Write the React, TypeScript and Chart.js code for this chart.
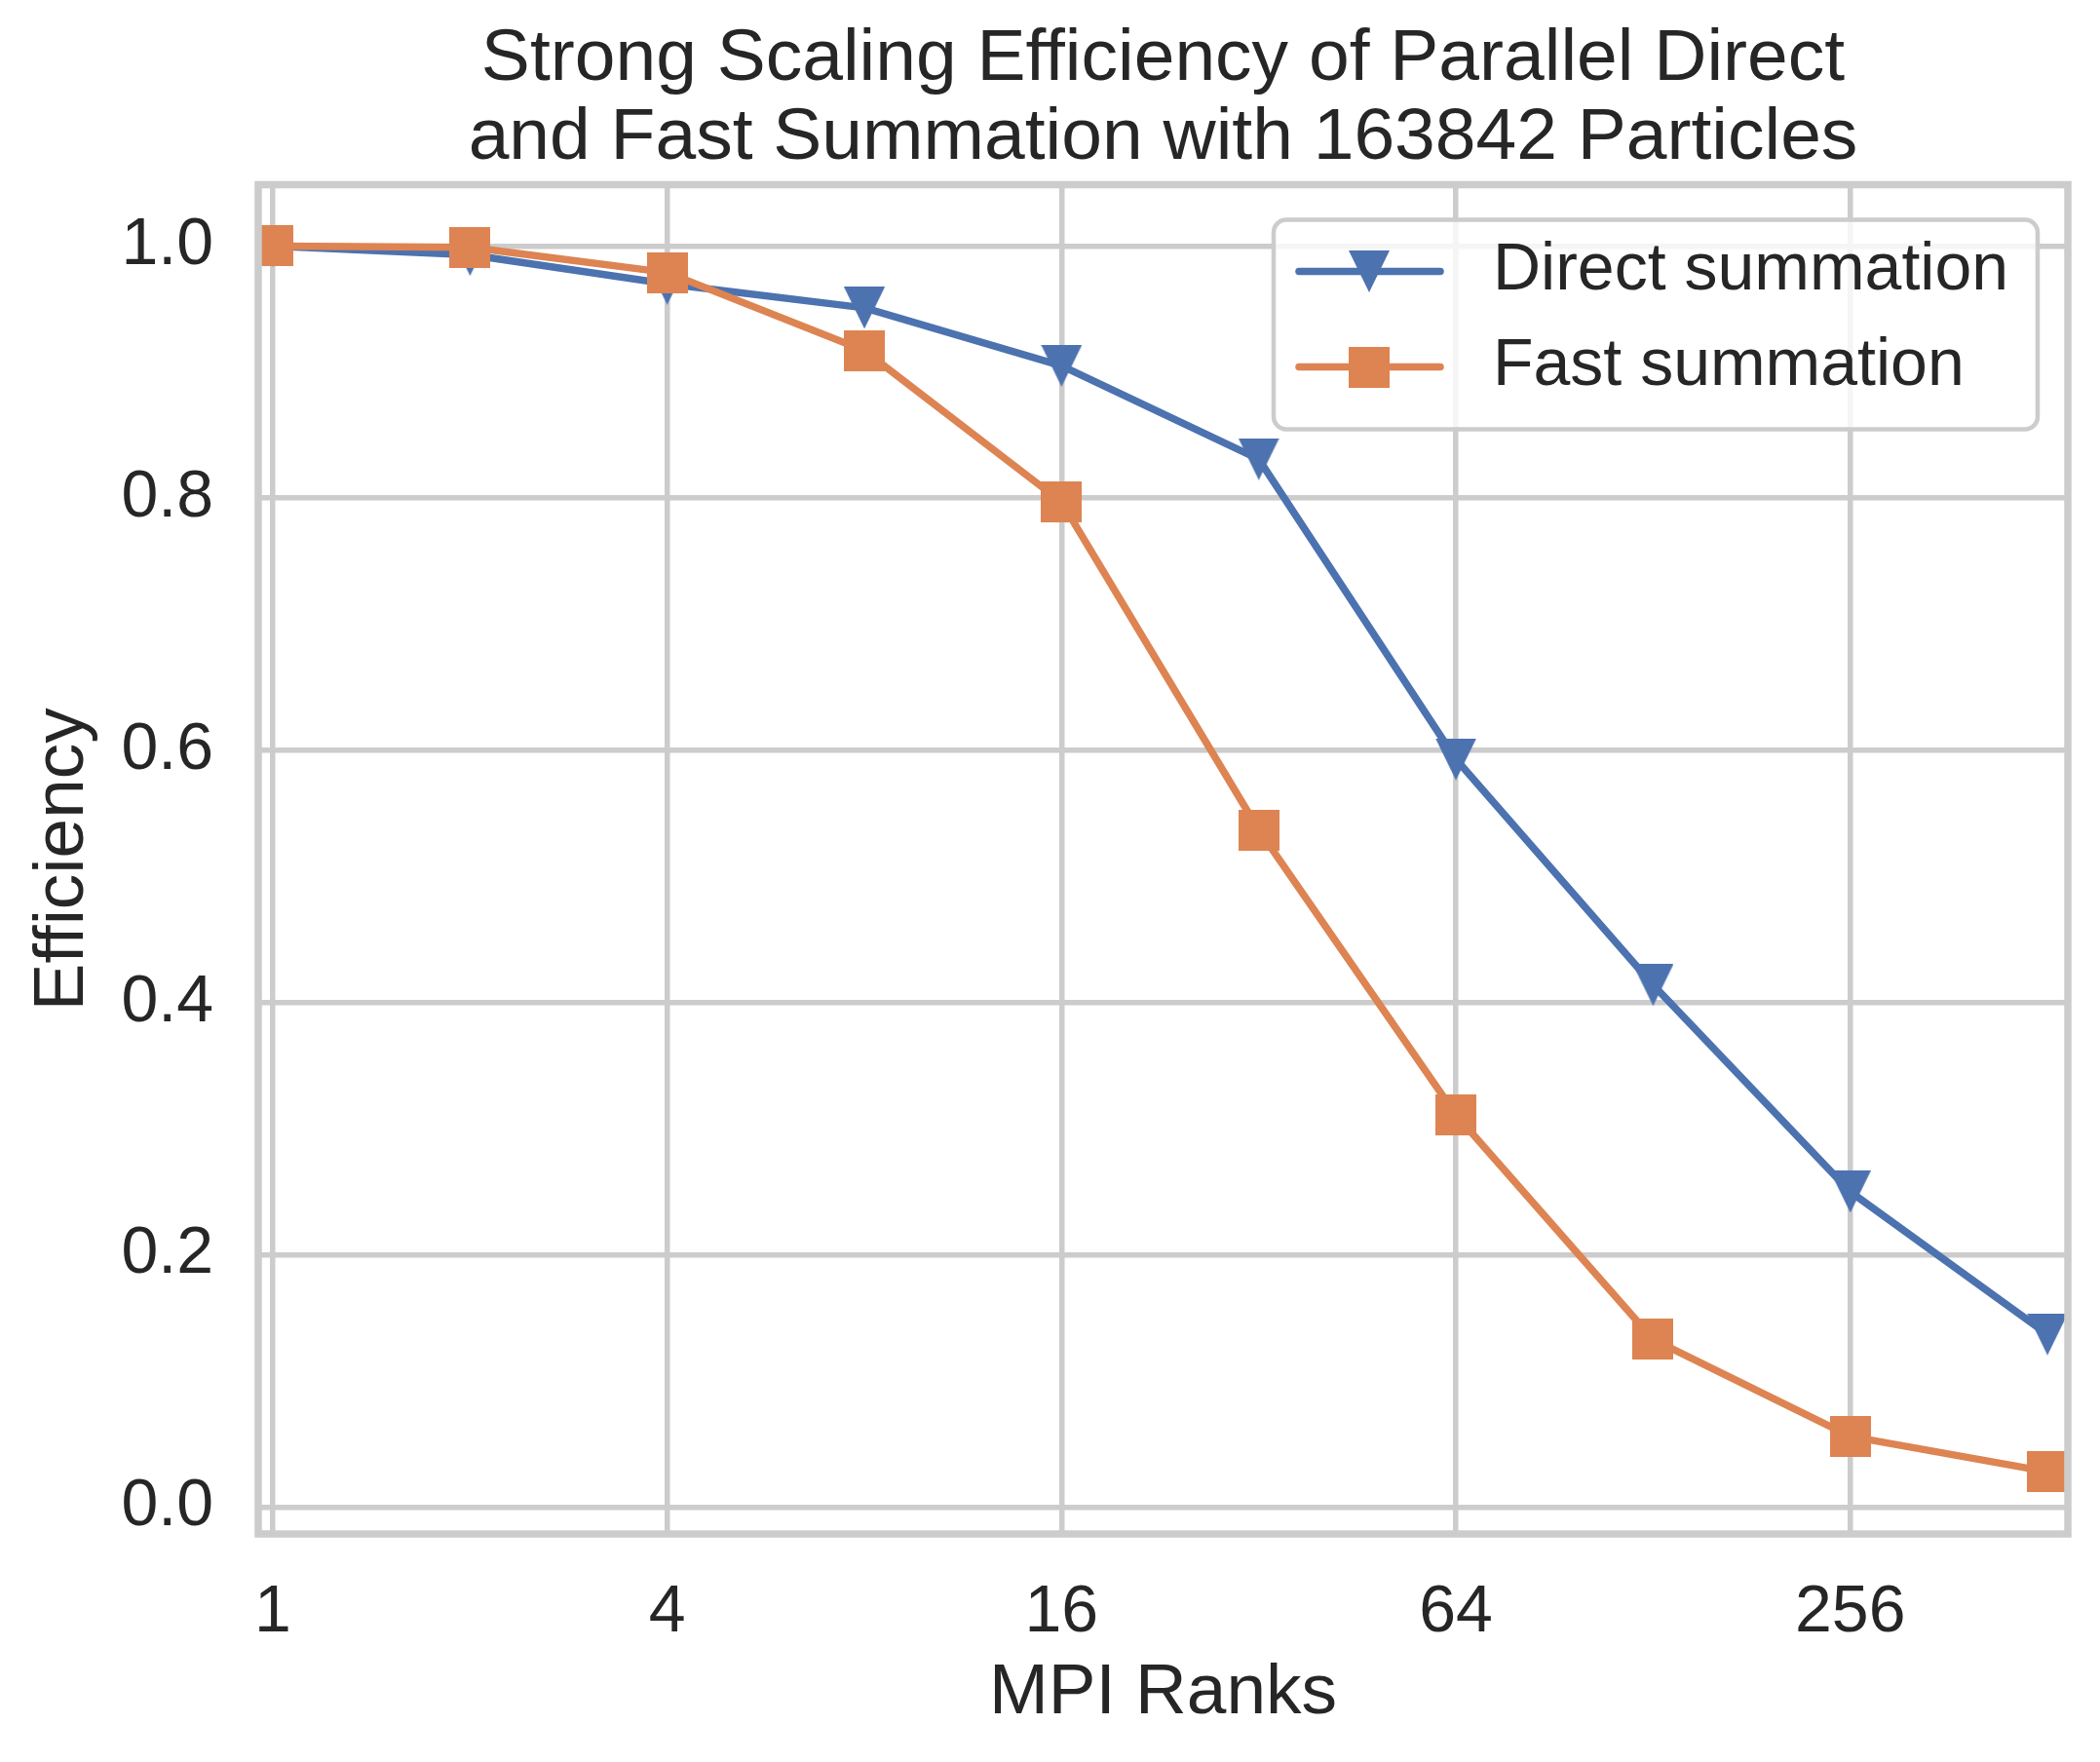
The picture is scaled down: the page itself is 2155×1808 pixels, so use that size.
import React, { useEffect, useRef } from 'react';
import { Chart, registerables } from 'chart.js';

Chart.register(...registerables);

// values
const ranks = [1, 2, 4, 8, 16, 32, 64, 128, 256, 512];
const directSummation = [1.0, 0.993, 0.97, 0.951, 0.905, 0.831, 0.593, 0.414, 0.25, 0.137];
const fastSummation = [1.0, 0.999, 0.979, 0.917, 0.797, 0.537, 0.311, 0.133, 0.056, 0.028];
const seriesLabels = ['Direct summation', 'Fast summation'];
const rankTicks = [1, 4, 16, 64, 256];
const efficiencyTicks = [0, 0.2, 0.4, 0.6, 0.8, 1.0];
const titleLines = [
  'Strong Scaling Efficiency of Parallel Direct',
  'and Fast Summation with 163842 Particles',
];

const FONT = '"Liberation Sans", Arial, sans-serif';
const TEXT = '#262626';
const GRID = '#cccccc';
const BLUE = '#4c72b0';
const ORANGE = '#dd8452';
const LINE_W = 7.5;

function makeMarker(kind: 'tri' | 'square', color: string) {
  const c = document.createElement('canvas');
  c.width = 42;
  c.height = kind === 'tri' ? 43 : 42;
  const g = c.getContext('2d')!;
  g.fillStyle = color;
  if (kind === 'tri') {
    g.beginPath();
    g.moveTo(0, 0);
    g.lineTo(42, 0);
    g.lineTo(21, 43);
    g.closePath();
    g.fill();
  } else {
    g.fillRect(0, 0, 42, 42);
  }
  return c;
}

export default function App() {
  const canvasRef = useRef<HTMLCanvasElement>(null);
  const chartRef = useRef<Chart | null>(null);

  useEffect(() => {
    document.body.style.margin = '0';
    if (!canvasRef.current) return;
    if (chartRef.current) chartRef.current.destroy();

    const triMarker = makeMarker('tri', BLUE);
    const sqMarker = makeMarker('square', ORANGE);

    // axes frame on top of the lines, like matplotlib spines
    const framePlugin = {
      id: 'frame',
      afterDatasetsDraw(chart: Chart) {
        const { ctx, chartArea: a } = chart;
        ctx.save();
        ctx.strokeStyle = GRID;
        ctx.lineWidth = 7.5;
        ctx.strokeRect(a.left, a.top, a.right - a.left, a.bottom - a.top);
        ctx.restore();
      },
    };

    const legendPlugin = {
      id: 'boxLegend',
      afterDraw(chart: Chart) {
        const { ctx, chartArea: a } = chart;
        const w = 784;
        const h = 215;
        const left = a.right - 31 - w;
        const top = a.top + 36;
        ctx.save();
        ctx.beginPath();
        ctx.roundRect(left, top, w, h, 13);
        ctx.fillStyle = 'rgba(255,255,255,0.8)';
        ctx.fill();
        ctx.strokeStyle = GRID;
        ctx.lineWidth = 4.5;
        ctx.stroke();

        const rows = [
          { y: top + 53, color: BLUE, marker: triMarker, label: seriesLabels[0] },
          { y: top + 151, color: ORANGE, marker: sqMarker, label: seriesLabels[1] },
        ];
        rows.forEach((r) => {
          ctx.beginPath();
          ctx.strokeStyle = r.color;
          ctx.lineWidth = LINE_W;
          ctx.lineCap = 'round';
          ctx.moveTo(left + 26, r.y);
          ctx.lineTo(left + 171, r.y);
          ctx.stroke();
          ctx.drawImage(r.marker, left + 98 - r.marker.width / 2, r.y - r.marker.height / 2);
          ctx.fillStyle = TEXT;
          ctx.font = `68px ${FONT}`;
          ctx.textAlign = 'left';
          ctx.textBaseline = 'middle';
          ctx.fillText(r.label, left + 225, r.y);
        });
        ctx.restore();
      },
    };

    chartRef.current = new Chart(canvasRef.current, {
      type: 'line',
      data: {
        datasets: [
          {
            label: seriesLabels[0],
            data: ranks.map((r, i) => ({ x: r, y: directSummation[i] })),
            borderColor: BLUE,
            backgroundColor: BLUE,
            borderWidth: LINE_W,
            borderCapStyle: 'round',
            borderJoinStyle: 'round',
            pointStyle: triMarker,
            pointRadius: 21,
            order: 1,
          },
          {
            label: seriesLabels[1],
            data: ranks.map((r, i) => ({ x: r, y: fastSummation[i] })),
            borderColor: ORANGE,
            backgroundColor: ORANGE,
            borderWidth: LINE_W,
            borderCapStyle: 'round',
            borderJoinStyle: 'round',
            pointStyle: sqMarker,
            pointRadius: 21,
            order: 0,
          },
        ],
      },
      options: {
        responsive: false,
        animation: false,
        devicePixelRatio: 1,
        events: [],
        layout: { padding: { left: 0, right: 33, top: 0, bottom: 0 } },
        scales: {
          x: {
            type: 'logarithmic',
            min: 0.95,
            max: 550,
            afterBuildTicks: (scale: any) => {
              scale.ticks = rankTicks.map((v) => ({ value: v }));
            },
            afterFit: (scale: any) => {
              scale.height = 234;
            },
            grid: { color: GRID, lineWidth: 5.5, drawTicks: false },
            border: { display: false },
            ticks: {
              color: TEXT,
              font: { family: FONT, size: 68, lineHeight: 1 },
              padding: 47,
              maxRotation: 0,
              autoSkip: false,
              callback: (v: any) => String(v),
            },
            title: {
              display: true,
              text: 'MPI Ranks',
              color: TEXT,
              font: { family: FONT, size: 73, lineHeight: 1 },
              padding: { top: 0, bottom: 33.5 },
            },
          },
          y: {
            type: 'linear',
            min: -0.02135,
            max: 1.04865,
            afterBuildTicks: (scale: any) => {
              scale.ticks = efficiencyTicks.map((v) => ({ value: v }));
            },
            afterFit: (scale: any) => {
              scale.width = 265;
            },
            grid: { color: GRID, lineWidth: 5.5, drawTicks: false },
            border: { display: false },
            ticks: {
              color: TEXT,
              font: { family: FONT, size: 68, lineHeight: 1 },
              padding: 46,
              callback: (v: any) => Number(v).toFixed(1),
            },
            title: {
              display: true,
              text: 'Efficiency',
              color: TEXT,
              font: { family: FONT, size: 73, lineHeight: 1 },
              padding: { top: 28, bottom: 0 },
            },
          },
        },
        plugins: {
          legend: { display: false },
          tooltip: { enabled: false },
          title: {
            display: true,
            text: titleLines,
            color: TEXT,
            fullSize: false,
            font: { family: FONT, size: 75, weight: 'normal', lineHeight: 81 / 75 },
            padding: { top: 21, bottom: 6.5 },
          },
        },
      },
      plugins: [framePlugin, legendPlugin],
    } as any);

    return () => {
      if (chartRef.current) {
        chartRef.current.destroy();
        chartRef.current = null;
      }
    };
  }, []);

  return (
    <canvas ref={canvasRef} width={2155} height={1808} style={{ display: 'block' }} />
  );
}
